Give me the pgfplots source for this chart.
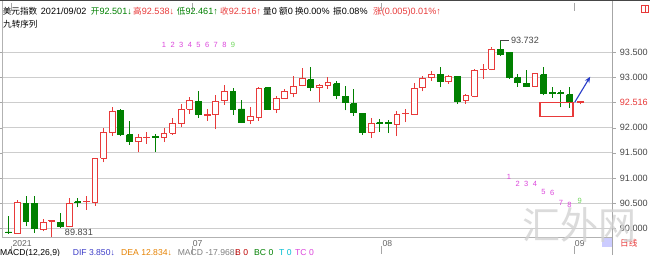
\documentclass[border=0pt]{standalone}
\usepackage{pgfplots}
\pgfplotsset{compat=1.18}
\usetikzlibrary{arrows.meta}
\usepackage{fontspec}
\setmainfont{Liberation Sans}
\newfontfamily\cjk{Noto Sans CJK SC}
\definecolor{cred}{RGB}{232,58,58}
\definecolor{cgreen}{RGB}{0,128,0}
\definecolor{gridc}{RGB}{205,205,205}
\definecolor{magc}{RGB}{220,70,220}
\definecolor{lgreen}{RGB}{110,215,90}
\definecolor{tgray}{RGB}{70,70,70}
\definecolor{arrowblue}{RGB}{40,60,200}
\newcommand\hf{\fontsize{9.1bp}{11bp}\selectfont}
\newcommand\ck[1]{{\cjk\fontsize{8.6bp}{11bp}\selectfont #1}}
\newcommand\candle[5]{%
  \pgfmathsetmacro\xl{#1-0.34}\pgfmathsetmacro\xr{#1+0.34}%
  \ifdim #5pt<#2pt
    \addplot[cgreen, line width=0.9bp, forget plot] coordinates {(#1,#4) (#1,#3)};
    \addplot[draw=cgreen, fill=cgreen, line width=0.9bp, forget plot] coordinates {(\xl,#2) (\xr,#2) (\xr,#5) (\xl,#5) (\xl,#2)};
  \else
    \addplot[cred, line width=0.9bp, forget plot] coordinates {(#1,#4) (#1,#3)};
    \addplot[draw=cred, fill=white, line width=0.9bp, forget plot] coordinates {(\xl,#2) (\xr,#2) (\xr,#5) (\xl,#5) (\xl,#2)};
  \fi}
\begin{document}
\begin{tikzpicture}[x=1bp,y=1bp]
\path[use as bounding box] (0,0) rectangle (650,255);
\clip (0,0) rectangle (650,255);
\fill[white] (0,0) rectangle (650,255);
\begin{axis}[
  at={(2,18)}, anchor=south west, scale only axis,
  width=610bp, height=235bp,
  xmin=-0.81, xmax=69.9, ymin=89.653, ymax=94.315,
  axis line style={draw=none},
  ymajorgrids, grid style={gridc, line width=0.8bp},
  ytick={90,90.5,91,91.5,92,92.5,93,93.5},
  yticklabels={90.000,90.500,91.000,91.500,92.000,\textcolor{cred}{92.516},93.000,93.500},
  yticklabel pos=right,
  yticklabel style={anchor=west, inner sep=0pt, xshift=4bp, font=\hf, text=tgray},
  tick align=outside,
  major tick length=4bp,
  ytick style={draw=gray!70},
  xtick={0.3,21.2,43.2,65.5},
  xticklabels={2021,07,08,09},
  xtick style={draw=gray!70, /pgfplots/major tick length=8bp},
  xticklabel style={anchor=north west, inner sep=0pt, xshift=1bp, yshift=9.5bp, font=\fontsize{8.6bp}{10bp}\selectfont, text=gray!80!black},
  clip=false,
]
\candle{0}{89.93}{90.24}{89.89}{89.92}
\candle{1}{89.905}{90.56}{89.89}{90.52}
\candle{2}{90.50}{90.64}{90.04}{90.135}
\candle{3}{90.50}{90.64}{89.91}{89.99}
\candle{4}{89.976}{90.19}{89.94}{90.12}
\candle{5}{90.14}{90.17}{89.831}{90.16}
\candle{6}{90.12}{90.31}{90.00}{90.04}
\candle{7}{90.04}{90.60}{90.02}{90.50}
\candle{8}{90.53}{90.60}{90.42}{90.52}
\candle{9}{90.53}{90.65}{90.37}{90.54}
\candle{10}{90.52}{91.40}{90.45}{91.39}
\candle{11}{91.39}{91.99}{91.31}{91.91}
\candle{12}{91.91}{92.40}{91.84}{92.32}
\candle{13}{92.34}{92.37}{91.83}{91.86}
\candle{14}{91.855}{92.13}{91.66}{91.72}
\candle{15}{91.72}{91.875}{91.51}{91.81}
\candle{16}{91.80}{91.91}{91.68}{91.81}
\candle{17}{91.82}{91.875}{91.52}{91.81}
\candle{18}{91.81}{91.99}{91.71}{91.875}
\candle{19}{91.89}{92.19}{91.855}{92.09}
\candle{20}{92.09}{92.46}{92.01}{92.36}
\candle{21}{92.37}{92.60}{92.27}{92.54}
\candle{22}{92.52}{92.73}{92.19}{92.26}
\candle{23}{92.25}{92.36}{92.14}{92.26}
\candle{24}{92.26}{92.65}{91.97}{92.52}
\candle{25}{92.54}{92.85}{92.45}{92.71}
\candle{26}{92.71}{92.78}{92.26}{92.37}
\candle{27}{92.37}{92.54}{92.09}{92.11}
\candle{28}{92.14}{92.40}{92.07}{92.22}
\candle{29}{92.21}{92.80}{92.14}{92.78}
\candle{30}{92.79}{92.81}{92.35}{92.36}
\candle{31}{92.37}{92.63}{92.29}{92.57}
\candle{32}{92.57}{92.77}{92.57}{92.71}
\candle{33}{92.67}{93.03}{92.60}{92.82}
\candle{34}{92.83}{93.18}{92.82}{92.98}
\candle{35}{92.95}{93.20}{92.72}{92.79}
\candle{36}{92.79}{92.87}{92.50}{92.83}
\candle{37}{92.83}{93.00}{92.77}{92.90}
\candle{38}{92.87}{92.93}{92.56}{92.63}
\candle{39}{92.62}{92.83}{92.34}{92.50}
\candle{40}{92.47}{92.77}{92.24}{92.31}
\candle{41}{92.29}{92.29}{91.855}{91.91}
\candle{42}{91.91}{92.19}{91.79}{92.09}
\candle{43}{92.10}{92.17}{91.92}{92.09}
\candle{44}{92.10}{92.15}{91.89}{92.09}
\candle{45}{92.07}{92.33}{91.83}{92.27}
\candle{46}{92.28}{92.37}{92.11}{92.29}
\candle{47}{92.27}{92.88}{92.27}{92.78}
\candle{48}{92.79}{93.03}{92.72}{92.98}
\candle{49}{92.99}{93.12}{92.93}{93.05}
\candle{50}{93.05}{93.20}{92.80}{92.91}
\candle{51}{92.91}{93.04}{92.87}{93.02}
\candle{52}{93.02}{93.03}{92.47}{92.52}
\candle{53}{92.54}{92.67}{92.47}{92.64}
\candle{54}{92.62}{93.16}{92.60}{93.14}
\candle{55}{93.15}{93.26}{92.97}{93.16}
\candle{56}{93.16}{93.60}{93.14}{93.56}
\candle{57}{93.55}{93.732}{93.43}{93.45}
\candle{58}{93.50}{93.50}{92.97}{92.99}
\candle{59}{92.99}{93.07}{92.81}{92.89}
\candle{60}{92.88}{93.15}{92.81}{92.82}
\candle{61}{92.82}{93.08}{92.81}{93.07}
\candle{62}{93.05}{93.20}{92.64}{92.67}
\candle{63}{92.69}{92.80}{92.59}{92.68}
\candle{64}{92.69}{92.75}{92.40}{92.68}
\candle{65}{92.65}{92.80}{92.39}{92.50}
\candle{66.3}{92.501}{92.538}{92.461}{92.516}
% TD sequential counts
\addplot[only marks, mark=none, nodes near coords, point meta=explicit symbolic,
  nodes near coords style={anchor=center, inner sep=0pt, font=\fontsize{7.5bp}{8bp}\selectfont, text=magc}]
  table[meta=t] {
x y t
18 93.64 1
19 93.64 2
20 93.64 3
21 93.64 4
22 93.64 5
23 93.64 6
24 93.64 7
25 93.64 8
58 91.03 1
59 90.88 2
60 90.88 3
61 90.88 4
62 90.72 5
63 90.70 6
64 90.51 7
65 90.47 8
};
\addplot[only marks, mark=none, nodes near coords, point meta=explicit symbolic,
  nodes near coords style={anchor=center, inner sep=0pt, font=\fontsize{7.5bp}{8bp}\selectfont, text=lgreen}]
  table[meta=t] {
x y t
26 93.64 9
66.2 90.55 9
};
% annotations
\draw[tgray, line width=0.8bp] (axis cs:57,93.732) -- (axis cs:58,93.732);
\node[anchor=west, inner sep=0pt, font=\hf, text=tgray] at (axis cs:58.2,93.732) {93.732};
\draw[tgray, line width=0.8bp] (axis cs:5,89.831) -- (axis cs:6.3,89.831);
\node[anchor=base west, inner sep=0pt, font=\hf, text=tgray] at (axis cs:6.5,89.857) {89.831};
\draw[cred, line width=1.3bp] (axis cs:61.6,92.5) rectangle (axis cs:65.4,92.214);
\draw[arrowblue, line width=1.1bp, -{Stealth[length=6bp,width=5bp]}] (axis cs:65.6,92.5) -- (axis cs:67.4,93.01);
\end{axis}
% frame lines
\draw[gray!60, line width=0.8bp] (2,18) -- (2,255);
\draw[gray!70, line width=0.8bp] (612,0) -- (612,255);
\draw[gray!60, line width=0.8bp] (2,18) -- (612,18);
\draw[tgray, line width=1.2bp] (0,254.6) -- (650,254.6);
% header
\node[anchor=base west, inner sep=0pt, font=\hf] at (2.7,241) {\ck{美元指数}};
\node[anchor=base west, inner sep=0pt, font=\hf] at (40.7,241) {2021/09/02};
\node[anchor=base west, inner sep=0pt, font=\hf, text=cgreen] at (90.7,241) {\ck{开}92.501↓};
\node[anchor=base west, inner sep=0pt, font=\hf, text=cred] at (133,241) {\ck{高}92.538↓};
\node[anchor=base west, inner sep=0pt, font=\hf, text=cgreen] at (176.7,241) {\ck{低}92.461↑};
\node[anchor=base west, inner sep=0pt, font=\hf, text=cred] at (220,241) {\ck{收}92.516↑};
\node[anchor=base west, inner sep=0pt, font=\hf] at (263,241) {\ck{量}0};
\node[anchor=base west, inner sep=0pt, font=\hf] at (279,241) {\ck{额}0};
\node[anchor=base west, inner sep=0pt, font=\hf] at (295,241) {\ck{换}0.00\%};
\node[anchor=base west, inner sep=0pt, font=\hf] at (333,241) {\ck{振}0.08\%};
\node[anchor=base west, inner sep=0pt, font=\hf, text=cred] at (373,241) {\ck{涨}(0.005)0.01\%↑};
\node[anchor=base west, inner sep=0pt, font=\hf] at (3,228) {\ck{九转序列}};
% top-right icon
\draw[cred, line width=0.7bp] (641,243) rectangle (648,250);
\draw[cred, line width=0.7bp] (645,243) -- (645,250);
% bottom right
\fill[blue!20] (602,8) rectangle (611.5,17);
\node[anchor=base west, inner sep=0pt, font=\hf, text=cred] at (620,9) {\ck{日线}};
% watermark
\node[inner sep=0pt, font=\cjk\fontsize{38bp}{40bp}\selectfont, text=gray!35, opacity=0.8] at (579,30) {汇外网};
% MACD line
\begin{scope}[every node/.style={anchor=base west, inner sep=0pt, font=\fontsize{8.6bp}{10bp}\selectfont}]
\node at (0,-0.5) {MACD(12,26,9)};
\node[text={rgb,255:red,60;green,60;blue,200}] at (72.6,-0.5) {DIF 3.850↓};
\node[text={rgb,255:red,230;green,130;blue,0}] at (121,-0.5) {DEA 12.834↓};
\node[text=gray] at (177.6,-0.5) {MACD -17.968↓};
\node[text={rgb,255:red,190;green,0;blue,0}] at (235,-0.5) {B 0};
\node[text=cgreen] at (254,-0.5) {BC 0};
\node[text={rgb,255:red,0;green,190;blue,210}] at (279,-0.5) {T 0};
\node[text=magc] at (295,-0.5) {TC 0};
\end{scope}
\end{tikzpicture}
\end{document}
